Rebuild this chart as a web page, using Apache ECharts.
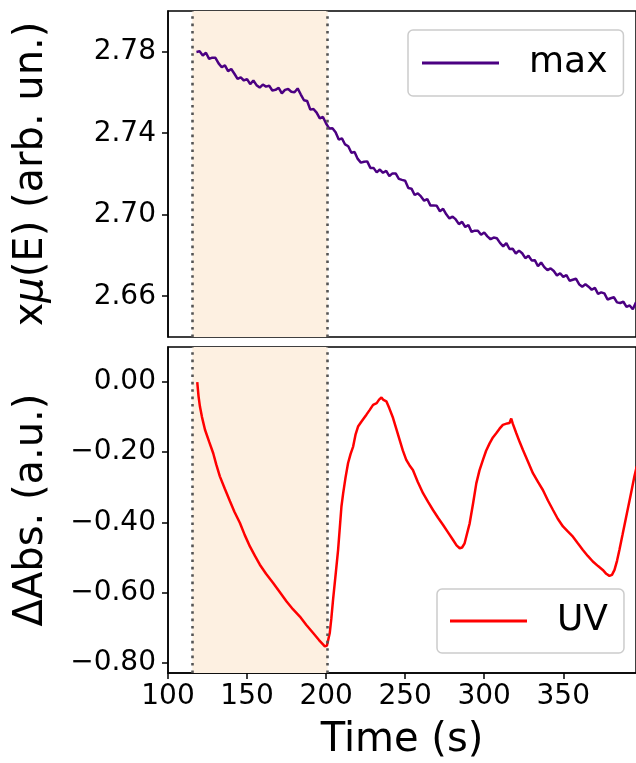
<!DOCTYPE html>
<html><head><meta charset="utf-8">
<script src="https://cdn.jsdelivr.net/npm/echarts@6/dist/echarts.min.js"></script>
<style>html,body{margin:0;padding:0;background:#fff}#c{width:636px;height:763px}</style>
</head><body><div id="c"></div>
<script>
// ---- data ----
const timesMax = [118,120,122,124,126,128,130,132,134,136,138,140,142,144,146,148,150,152,154,156,158,160,162,164,166,168,170,172,174,176,178,180,182,184,186,188,190,192,194,196,198,200,202,204,206,208,210,212,214,216,218,220,222,224,226,228,230,232,234,236,238,240,242,244,246,248,250,252,254,256,258,260,262,264,266,268,270,272,274,276,278,280,282,284,286,288,290,292,294,296,298,300,302,304,306,308,310,312,314,316,318,320,322,324,326,328,330,332,334,336,338,340,342,344,346,348,350,352,354,356,358,360,362,364,366,368,370,372,374,376,378,380,382,384,386,388,390,392,394,396];
const valuesMax = [2.7799,2.7802,2.7782,2.7795,2.7765,2.7771,2.7770,2.7743,2.7724,2.7733,2.7705,2.7715,2.7692,2.7667,2.7674,2.7659,2.7666,2.7641,2.7659,2.7636,2.7624,2.7639,2.7629,2.7633,2.7610,2.7613,2.7623,2.7596,2.7613,2.7617,2.7604,2.7601,2.7620,2.7590,2.7562,2.7558,2.7516,2.7519,2.7501,2.7473,2.7480,2.7448,2.7423,2.7425,2.7405,2.7369,2.7375,2.7345,2.7336,2.7304,2.7308,2.7274,2.7256,2.7260,2.7262,2.7230,2.7230,2.7208,2.7222,2.7206,2.7215,2.7190,2.7203,2.7203,2.7176,2.7171,2.7167,2.7131,2.7128,2.7097,2.7105,2.7090,2.7069,2.7077,2.7045,2.7046,2.7044,2.7017,2.7029,2.7002,2.6982,2.6991,2.6977,2.6954,2.6965,2.6940,2.6950,2.6916,2.6922,2.6922,2.6902,2.6913,2.6894,2.6880,2.6888,2.6885,2.6862,2.6845,2.6861,2.6832,2.6833,2.6810,2.6824,2.6811,2.6787,2.6799,2.6776,2.6777,2.6747,2.6766,2.6743,2.6728,2.6737,2.6724,2.6702,2.6713,2.6695,2.6704,2.6676,2.6681,2.6686,2.6659,2.6647,2.6659,2.6647,2.6632,2.6641,2.6612,2.6619,2.6614,2.6584,2.6590,2.6595,2.6570,2.6567,2.6573,2.6548,2.6555,2.6536,2.6570];

const timesUV = [118.5,119.3,120.2,121.5,123.4,126,128.6,130.5,132.8,136,139.2,142,145.5,148.5,151.8,155,158.1,162,166.5,171,175,179,183.4,187.5,191.8,195.5,199.2,200.5,202.3,203.3,204.4,206,207.6,209.7,210.8,212.3,213.9,215.5,217.1,218.6,220.2,222.5,225.5,227.5,229.7,232,233.5,235,236,237,238.1,240,242.3,244.5,246.5,248.5,250.7,252.8,254.9,258,261.3,264.5,267.6,270.8,273.9,277,280.2,282.5,284.5,286,287.6,289,290.8,293,295,297,299.2,301.2,303.4,305.5,307.6,309.7,311.8,314.5,316,317.1,318,320.3,322.5,324.5,327.5,330.8,334,337.1,340.3,343.5,346.5,349.8,353,356.1,359.2,362.4,365.5,368.7,372,375,377.2,379.2,380.8,382.4,384,385.5,387.5,389.8,392.5,395,396.5];
const valuesUV = [0.000,-0.040,-0.070,-0.100,-0.136,-0.170,-0.203,-0.235,-0.269,-0.305,-0.340,-0.370,-0.402,-0.436,-0.469,-0.496,-0.521,-0.547,-0.573,-0.601,-0.626,-0.648,-0.669,-0.693,-0.716,-0.736,-0.754,-0.752,-0.716,-0.675,-0.621,-0.550,-0.478,-0.355,-0.317,-0.272,-0.231,-0.205,-0.184,-0.150,-0.127,-0.112,-0.093,-0.080,-0.065,-0.060,-0.050,-0.044,-0.050,-0.045,-0.055,-0.075,-0.102,-0.135,-0.165,-0.195,-0.222,-0.238,-0.251,-0.285,-0.317,-0.342,-0.365,-0.387,-0.407,-0.428,-0.450,-0.466,-0.474,-0.472,-0.460,-0.435,-0.403,-0.345,-0.289,-0.252,-0.222,-0.196,-0.175,-0.158,-0.146,-0.133,-0.122,-0.118,-0.117,-0.104,-0.118,-0.146,-0.172,-0.194,-0.225,-0.260,-0.285,-0.308,-0.338,-0.365,-0.390,-0.412,-0.427,-0.441,-0.460,-0.479,-0.496,-0.512,-0.525,-0.536,-0.547,-0.553,-0.550,-0.536,-0.510,-0.479,-0.435,-0.384,-0.325,-0.269,-0.240];

const xTicks = [100,150,200,250,300,350];
const yTicksTop = [2.66,2.70,2.74,2.78];
const yTicksBottom = [-0.80,-0.60,-0.40,-0.20,0.00];
const spanRange = [115.4, 201];

// ---- chart ----
const FONT = 'DejaVu Sans';
const fmtBottom = v => (v < -1e-9 ? '\u2212' : '') + Math.abs(v).toFixed(2);
const chart = echarts.init(document.getElementById('c'), null, {renderer:'canvas'});
const pair = (xs, ys) => xs.map((x,i)=>[x, ys[i]]);
const shade = {silent:true, itemStyle:{color:'#fdf0e1'}, data:[[{xAxis:spanRange[0]},{xAxis:spanRange[1]}]]};
const vlines = {silent:true, symbol:'none', label:{show:false},
  lineStyle:{color:'#555555', width:2.6, type:[2.6,4.8]},
  data: spanRange.map(v=>({xAxis:v}))};

chart.setOption({
  animation:false,
  textStyle:{fontFamily:FONT},
  grid:[
    {left:168, top:11, width:469, height:326, show:true, borderColor:'#000', borderWidth:1.5, backgroundColor:'transparent'},
    {left:168, top:347, width:469, height:326, show:true, borderColor:'#000', borderWidth:1.5, backgroundColor:'transparent'}
  ],
  xAxis:[
    {type:'value', gridIndex:0, min:100, max:396, axisLine:{show:false, onZero:false}, axisTick:{show:false}, axisLabel:{show:false}, splitLine:{show:false}},
    {type:'value', gridIndex:1, min:100, max:396, interval:50,
     axisLine:{show:true, onZero:false, lineStyle:{color:'#000', width:1.5}},
     axisTick:{show:true, length:6, lineStyle:{color:'#000', width:1.5}, customValues:xTicks},
     axisLabel:{fontSize:28, color:'#000', margin:10, fontFamily:FONT, customValues:xTicks},
     splitLine:{show:false},
     name:'Time (s)', nameLocation:'middle', nameGap:48, nameTextStyle:{fontSize:40, color:'#000', fontFamily:FONT}}
  ],
  yAxis:[
    {type:'value', gridIndex:0, min:2.64, max:2.80, interval:0.04,
     axisLine:{show:true, onZero:false, lineStyle:{color:'#000', width:1.5}},
     axisTick:{show:true, length:6, lineStyle:{color:'#000', width:1.5}, customValues:yTicksTop},
     axisLabel:{fontSize:28, color:'#000', margin:12, fontFamily:FONT, customValues:yTicksTop, formatter:v=>v.toFixed(2)},
     splitLine:{show:false},
     name:'{n|x}{i|\u03bc}{n|(E) (arb. un.)}', nameLocation:'middle', nameGap:116, nameRotate:90,
     nameTextStyle:{fontSize:40, color:'#000', fontFamily:FONT,
       rich:{n:{fontSize:40, fontFamily:FONT, color:'#000'}, i:{fontSize:40, fontFamily:FONT, fontStyle:'italic', color:'#000'}}}},
    {type:'value', gridIndex:1, min:-0.83, max:0.10,
     axisLine:{show:true, onZero:false, lineStyle:{color:'#000', width:1.5}},
     axisTick:{show:true, length:6, lineStyle:{color:'#000', width:1.5}, customValues:yTicksBottom},
     axisLabel:{fontSize:28, color:'#000', margin:12, fontFamily:FONT, customValues:yTicksBottom, formatter:fmtBottom},
     splitLine:{show:false},
     name:'\u0394Abs. (a.u.)', nameLocation:'middle', nameGap:116, nameRotate:90,
     nameTextStyle:{fontSize:40, color:'#000', fontFamily:FONT}}
  ],
  legend:[
    {data:['max'], left:408, top:30, orient:'vertical', icon:'rect', itemWidth:77, itemHeight:3,
     padding:[13,16,13,14], backgroundColor:'rgba(255,255,255,0.85)', borderColor:'#cccccc', borderWidth:1.5, borderRadius:5,
     textStyle:{fontSize:36, color:'#000', fontFamily:FONT, padding:[0,0,0,25], lineHeight:40}},
    {data:['UV'], left:437, top:589, orient:'vertical', icon:'rect', itemWidth:77, itemHeight:3,
     padding:[12,16,12,13], backgroundColor:'rgba(255,255,255,0.85)', borderColor:'#cccccc', borderWidth:1.5, borderRadius:5,
     textStyle:{fontSize:36, color:'#000', fontFamily:FONT, padding:[0,0,0,25], lineHeight:40}}
  ],
  series:[
    {name:'max', type:'line', xAxisIndex:0, yAxisIndex:0, data:pair(timesMax, valuesMax), showSymbol:false, symbol:'none',
     lineStyle:{color:'#4b0082', width:2.5}, itemStyle:{color:'#4b0082'}, markArea:shade, markLine:vlines, z:3},
    {name:'UV', type:'line', xAxisIndex:1, yAxisIndex:1, data:pair(timesUV, valuesUV), showSymbol:false, symbol:'none',
     lineStyle:{color:'#ff0000', width:2.5}, itemStyle:{color:'#ff0000'}, markArea:shade, markLine:vlines, z:3}
  ]
});
</script></body></html>
